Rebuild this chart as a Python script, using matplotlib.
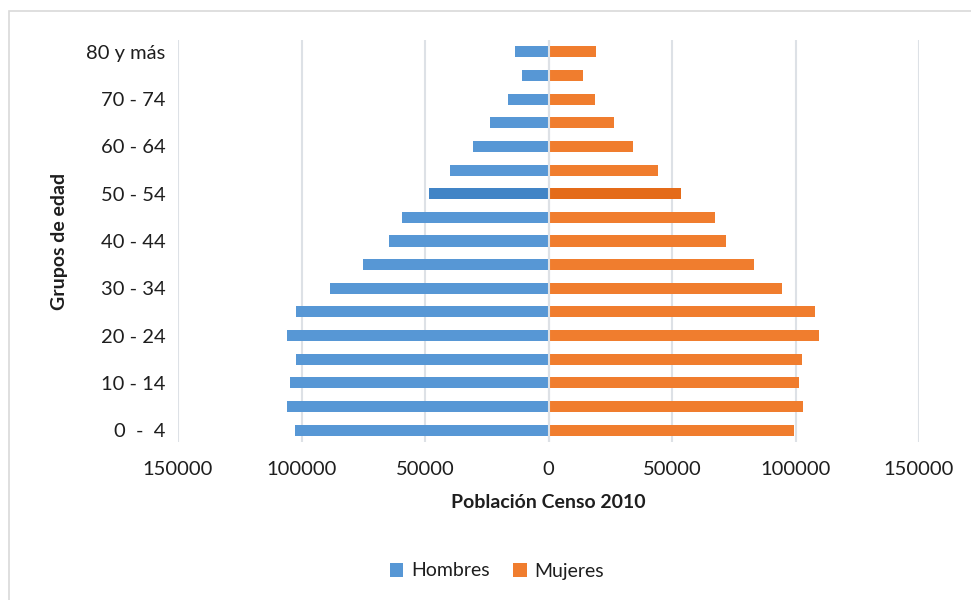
import numpy as np
import matplotlib.pyplot as plt
from matplotlib.patches import Rectangle

plt.rcParams['font.family'] = ['Lato', 'DejaVu Sans']

grupos = ["0  -  4", "5 - 9", "10 - 14", "15 - 19", "20 - 24", "25 - 29",
          "30 - 34", "35 - 39", "40 - 44", "45 - 49", "50 - 54", "55 - 59",
          "60 - 64", "65 - 69", "70 - 74", "75 - 79", "80 y más"]
hombres = [102800, 105700, 104500, 102400, 105700, 102400, 88300, 75300,
           64400, 59500, 48200, 39700, 30400, 23500, 16200, 10900, 13400]
mujeres = [99200, 103200, 101600, 102800, 109700, 107700, 94700, 83400,
           71700, 67600, 53800, 44500, 34400, 26700, 19000, 13800, 19400]
resaltado = "50 - 54"

azul, azul_osc = "#5797d5", "#4184c6"
naranja, naranja_osc = "#f07d2e", "#e46b19"
texto = "#1e1e1e"
rejilla = "#dde1e6"

fig = plt.figure(figsize=(9.71, 6.0), dpi=100)
fig.patches.append(Rectangle((9 / 971, -0.1), 1.1, 1 - 11 / 600 + 0.1,
                             transform=fig.transFigure, fill=False,
                             edgecolor="#d9d9d9", linewidth=1.2))

ax = fig.add_axes([178 / 971, 1 - 442 / 600, 741 / 971, 402 / 600])

y = np.arange(len(grupos))
col_h = [azul_osc if g == resaltado else azul for g in grupos]
col_m = [naranja_osc if g == resaltado else naranja for g in grupos]
ax.barh(y, -np.array(hombres), height=0.47, color=col_h, label="Hombres", zorder=3)
ax.barh(y, mujeres, height=0.47, color=col_m, label="Mujeres", zorder=3)

ax.set_xlim(-150000, 150000)
ax.set_ylim(-0.5, len(grupos) - 0.5)
xt = np.arange(-150000, 150001, 50000)
ax.set_xticks(xt)
ax.set_xticklabels([str(abs(v)) for v in xt])
ax.set_yticks(y[::2])
ax.set_yticklabels(grupos[::2])

ax.grid(axis="x", color=rejilla, linewidth=1.5, zorder=0)
ax.axvline(0, color=rejilla, linewidth=1.5, zorder=4)
for s in ax.spines.values():
    s.set_visible(False)
ax.tick_params(axis="both", length=0, labelsize=14.5, colors=texto)
ax.tick_params(axis="x", pad=14)
ax.tick_params(axis="y", pad=9)

ax.set_xlabel("Población Censo 2010", fontsize=14, fontweight="bold",
              color=texto, labelpad=11)
ax.set_ylabel("Grupos de edad", fontsize=14, fontweight="bold",
              color=texto, labelpad=13)

h, l = ax.get_legend_handles_labels()
fig.legend(h, l, loc="center", bbox_to_anchor=(497 / 971, 1 - 571 / 600),
           ncol=2, frameon=False, fontsize=14, handlelength=0.7,
           handleheight=0.7, handletextpad=0.4, columnspacing=1.2,
           labelcolor=texto)

fig.savefig("out.png", dpi=100)
